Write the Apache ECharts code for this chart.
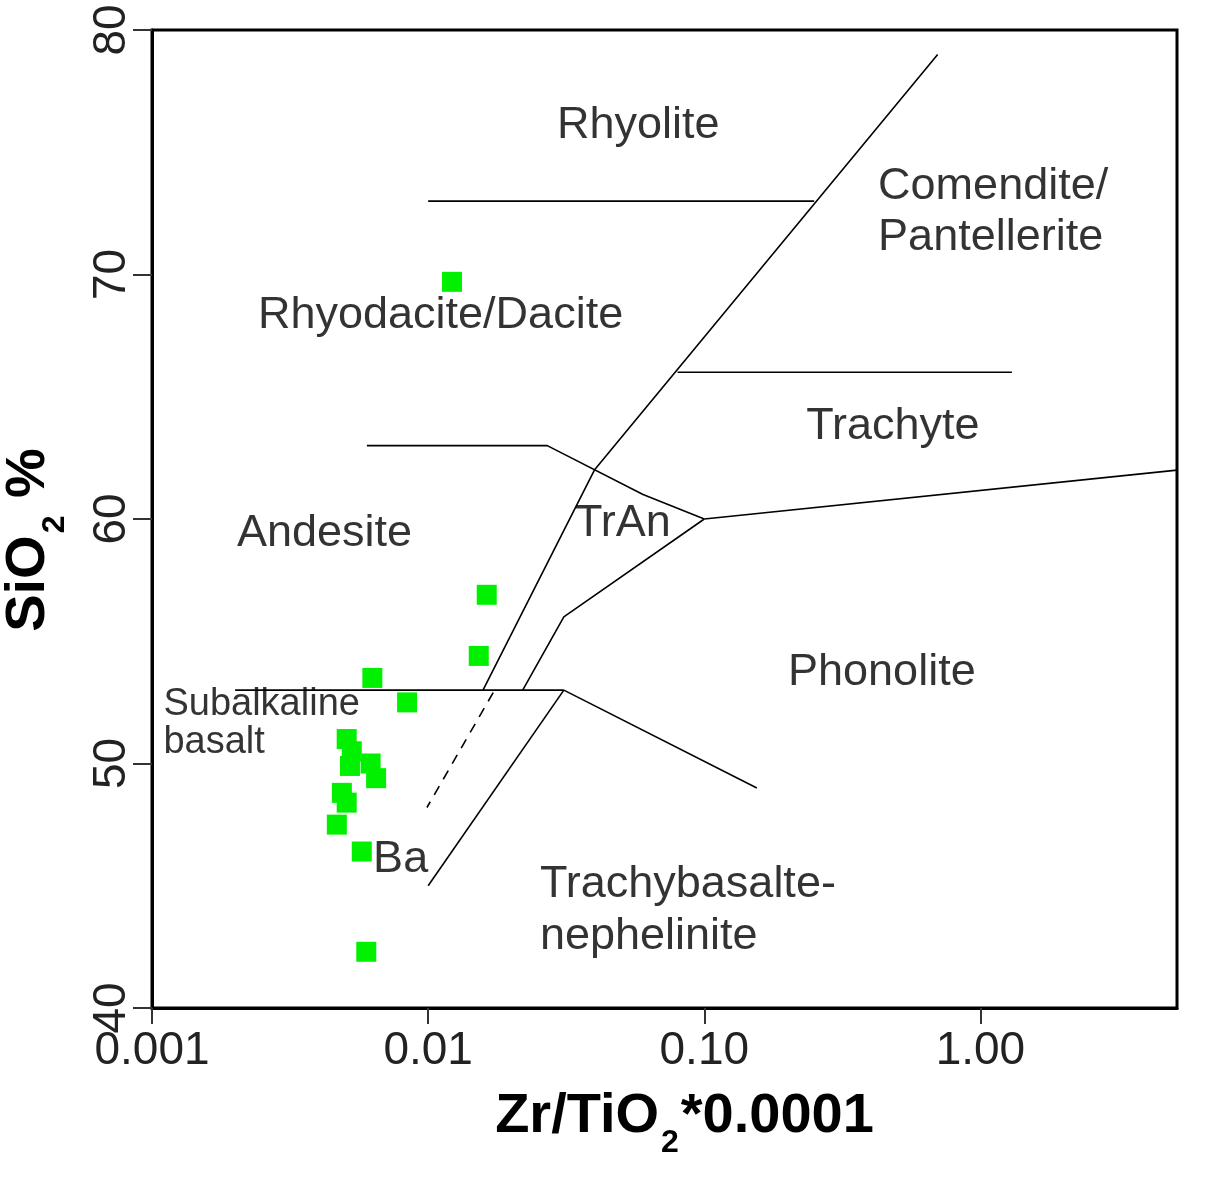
<!DOCTYPE html>
<html><head><meta charset="utf-8">
<script src="https://cdn.jsdelivr.net/npm/echarts@6/dist/echarts.min.js"></script>
<style>html,body{margin:0;padding:0;background:#fff}#c{width:1206px;height:1177px}</style>
</head><body><div id="c"></div>
<script>
// Axis ticks
const xTicks = [0.001, 0.01, 0.1, 1];
const xTickLabels = ['0.001', '0.01', '0.10', '1.00'];
const yTicks = [40, 50, 60, 70, 80];

// Samples: Zr/TiO2*0.0001 and SiO2 %
const sampleZrTi = [0.0122, 0.0163, 0.01525, 0.00628, 0.00839, 0.00507, 0.00529, 0.00521, 0.00619, 0.00648, 0.00487, 0.00507, 0.00467, 0.00575, 0.00597];
const sampleSiO2 = [69.7, 56.9, 54.4, 53.5, 52.5, 51.0, 50.5, 49.9, 50.0, 49.4, 48.8, 48.4, 47.5, 46.4, 42.3];

// Field boundaries [Zr/TiO2, SiO2]
const lineRhyolite = [[0.01, 73], [0.25, 73]];
const lineAlkaline = [[0.0158, 53], [0.04, 62], [0.7, 79]];
const lineTrachyteTop = [[0.08, 66], [1.3, 66]];
const lineAndesiteTop = [[0.006, 63], [0.027, 63], [0.06, 61], [0.1, 60]];
const lineTrachyteBase = [[0.1, 60], [5.15, 62]];
const lineTrAnBase = [[0.1, 60], [0.031, 56], [0.022, 53]];
const lineBasaltTop = [[0.002, 53], [0.031, 53]];
const linePhonoliteBase = [[0.031, 53], [0.155, 49]];
const lineBaBase = [[0.031, 53], [0.01, 45]];
const lineBaDashed = [[0.0172, 52.9], [0.0099, 48.2]];

// Field names and their anchor (left edge, vertical middle)
const fieldNames = ['Rhyolite', 'Comendite/\nPantellerite', 'Rhyodacite/Dacite', 'Trachyte', 'Andesite', 'TrAn', 'Phonolite', 'Subalkaline\nbasalt', 'Ba', 'Trachybasalte-\nnephelinite'];
const fieldX = [0.0293, 0.426, 0.00242, 0.234, 0.00203, 0.0340, 0.201, 0.0011, 0.00632, 0.0254];
const fieldY = [76.1, 72.56, 68.3, 63.76, 59.39, 59.8, 53.7, 51.62, 46.05, 43.97];

const FONT = 'Liberation Sans, Arial, sans-serif';
const fieldStyle = {
  'Comendite/\nPantellerite': {lineHeight: 51},
  'Subalkaline\nbasalt': {fontSize: 38, lineHeight: 38},
  'Trachybasalte-\nnephelinite': {lineHeight: 52}
};

const solid = [lineRhyolite, lineAlkaline, lineTrachyteTop, lineAndesiteTop, lineTrachyteBase, lineTrAnBase, lineBasaltTop, linePhonoliteBase, lineBaBase];

const series = [];
solid.forEach(function (d) {
  series.push({type: 'line', data: d, symbol: 'none', silent: true, lineStyle: {color: '#000', width: 1.6}, z: 3});
});
series.push({type: 'line', data: lineBaDashed, symbol: 'none', silent: true, lineStyle: {color: '#000', width: 1.6, type: [10, 8]}, z: 3});
series.push({
  type: 'scatter', symbol: 'rect', symbolSize: 20, z: 5,
  itemStyle: {color: '#00f000', opacity: 1},
  data: sampleZrTi.map(function (x, i) { return [x, sampleSiO2[i]]; })
});
series.push({
  type: 'scatter', symbolSize: 0, silent: true, z: 4,
  itemStyle: {color: 'transparent'},
  data: fieldNames.map(function (n, i) {
    const st = fieldStyle[n] || {};
    return {
      name: n, value: [fieldX[i], fieldY[i]],
      label: {
        show: true, position: [0, 0], align: 'left', verticalAlign: 'middle',
        formatter: n, color: '#000', fontFamily: FONT,
        fontSize: st.fontSize || 45, lineHeight: st.lineHeight || 50
      }
    };
  })
});

const chart = echarts.init(document.getElementById('c'));
chart.setOption({
  animation: false,
  backgroundColor: '#fff',
  grid: {left: 152, right: 29, top: 30, bottom: 169, show: true, borderColor: '#000', borderWidth: 3, containLabel: false, outerBoundsMode: 'none'},
  xAxis: {
    type: 'log', logBase: 10, min: 0.001, max: 5.15,
    axisLine: {show: true, lineStyle: {color: '#000', width: 3}},
    axisTick: {show: true, length: 16, lineStyle: {color: '#333', width: 2}, customValues: xTicks},
    axisLabel: {
      fontSize: 46, color: '#222', margin: 20, fontFamily: FONT, customValues: xTicks,
      formatter: function (v) {
        const i = xTicks.findIndex(function (t) { return Math.abs(t - v) / t < 1e-6; });
        return i >= 0 ? xTickLabels[i] : '';
      }
    },
    splitLine: {show: false},
    name: '{b|Zr/TiO}{s|2}{b|*0.0001}',
    nameLocation: 'middle', nameGap: 67,
    nameTextStyle: {
      color: '#000', fontFamily: FONT, fontWeight: 'bold', fontSize: 56, padding: [0, 0, 0, 40],
      rich: {
        b: {fontSize: 56, fontWeight: 'bold', fontFamily: FONT, color: '#000'},
        s: {fontSize: 32, fontWeight: 'bold', fontFamily: FONT, color: '#000', padding: [52, 2, 0, 2]}
      }
    }
  },
  yAxis: {
    type: 'value', min: 40, max: 80, interval: 10,
    axisLine: {show: true, lineStyle: {color: '#000', width: 3}},
    axisTick: {show: true, length: 19, lineStyle: {color: '#333', width: 2}},
    axisLabel: {rotate: 90, fontSize: 46, color: '#222', margin: 17, fontFamily: FONT},
    splitLine: {show: false},
    name: '{b|SiO}{s|2}{b| %}',
    nameLocation: 'middle', nameGap: 81,
    nameTextStyle: {
      color: '#000', fontFamily: FONT, fontWeight: 'bold', fontSize: 56, padding: [0, 42, 0, 0],
      rich: {
        b: {fontSize: 56, fontWeight: 'bold', fontFamily: FONT, color: '#000'},
        s: {fontSize: 32, fontWeight: 'bold', fontFamily: FONT, color: '#000', padding: [52, 2, 0, 2]}
      }
    }
  },
  series: series
});
</script></body></html>
